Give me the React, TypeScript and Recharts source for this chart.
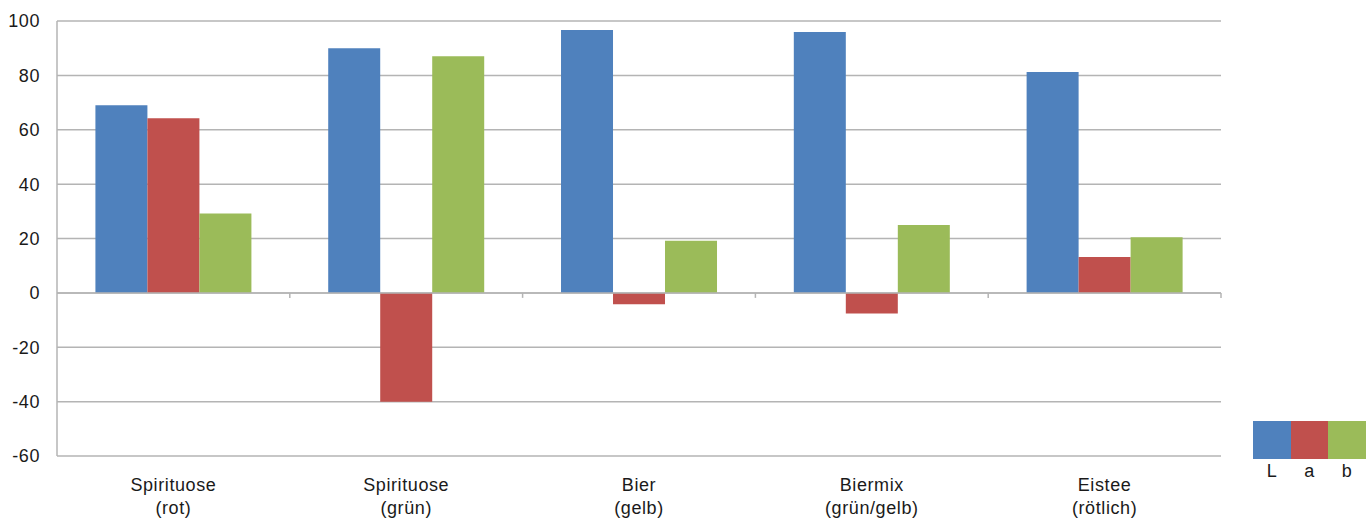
import { Bar, BarChart, CartesianGrid, ReferenceLine, XAxis, YAxis } from "recharts";

const categories = ["Spirituose\n(rot)", "Spirituose\n(grün)", "Bier\n(gelb)", "Biermix\n(grün/gelb)", "Eistee\n(rötlich)"];
const valuesL = [69, 90, 96.7, 96, 81.2];
const valuesA = [64.2, -40, -4.2, -7.6, 13.2];
const valuesB = [29.2, 87, 19.2, 25, 20.5];
const yTicks = [-60, -40, -20, 0, 20, 40, 60, 80, 100];

const series = [
  { key: "L", color: "#4F81BD" },
  { key: "a", color: "#C0504D" },
  { key: "b", color: "#9BBB59" },
];

const W = 1372;
const H = 519;
const M = { top: 21, right: 151, bottom: 0, left: 0 };
const X_AXIS_H = 63;
const Y_AXIS_W = 57;
const Y_MIN = -60;
const Y_MAX = 100;
const FONT = "'Liberation Sans', Arial, Helvetica, sans-serif";
const FONT_SIZE = 18;
const SPACING = 0.6;
const GRID = "#b4b4b4";

const data = categories.map((name, i) => ({ name, L: valuesL[i], a: valuesA[i], b: valuesB[i] }));

// y pixel of zero, from the same domain + plot box the chart uses
const plotH = H - M.top - M.bottom - X_AXIS_H;
const zeroY = M.top + ((Y_MAX - 0) / (Y_MAX - Y_MIN)) * plotH;
const bandW = (W - M.left - M.right - Y_AXIS_W) / categories.length;

function CategoryTick(props: any) {
  const { x, y, payload } = props;
  const lines = String(payload.value).split("\n");
  return (
    <g>
      {/* little separators hanging below the zero line */}
      <line x1={x + bandW / 2} x2={x + bandW / 2} y1={zeroY} y2={zeroY + 5} stroke={GRID} strokeWidth={1.5} />
      <text x={x} y={y} textAnchor="middle" fontFamily={FONT} fontSize={FONT_SIZE} letterSpacing={SPACING} fill="#1a1a1a">
        {lines.map((l, i) => (
          <tspan key={i} x={x} dy={i === 0 ? 33 : 23}>
            {l}
          </tspan>
        ))}
      </text>
    </g>
  );
}

function LabLegend() {
  return (
    <div style={{ position: "absolute", left: 1253, top: 421, display: "flex" }}>
      {series.map((s) => (
        <div key={s.key} style={{ width: 37.5, textAlign: "center" }}>
          <div style={{ height: 38, background: s.color }} />
          <div style={{ fontFamily: FONT, fontSize: FONT_SIZE, color: "#1a1a1a", marginTop: 2 }}>{s.key}</div>
        </div>
      ))}
    </div>
  );
}

export default function App() {
  return (
    <div style={{ position: "absolute", left: 0, top: 0, width: W, height: H, background: "#fff" }}>
      <BarChart width={W} height={H} data={data} margin={M} barCategoryGap="16.5%" barGap={0}>
        <CartesianGrid vertical={false} stroke={GRID} strokeWidth={1.5} />
        <XAxis
          dataKey="name"
          height={X_AXIS_H}
          axisLine={false}
          tickLine={false}
          tickSize={0}
          interval={0}
          tick={<CategoryTick />}
        />
        <YAxis
          width={Y_AXIS_W}
          domain={[Y_MIN, Y_MAX]}
          ticks={yTicks}
          interval={0}
          axisLine={{ stroke: GRID, strokeWidth: 1.5 }}
          tickLine={false}
          tickSize={0}
          tickMargin={17}
          tick={{ fontFamily: FONT, fontSize: FONT_SIZE, fill: "#1a1a1a", letterSpacing: SPACING }}
        />
        <ReferenceLine y={0} stroke={GRID} strokeWidth={1.5} />
        {series.map((s) => (
          <Bar key={s.key} dataKey={s.key} fill={s.color} isAnimationActive={false} />
        ))}
      </BarChart>
      <LabLegend />
    </div>
  );
}
